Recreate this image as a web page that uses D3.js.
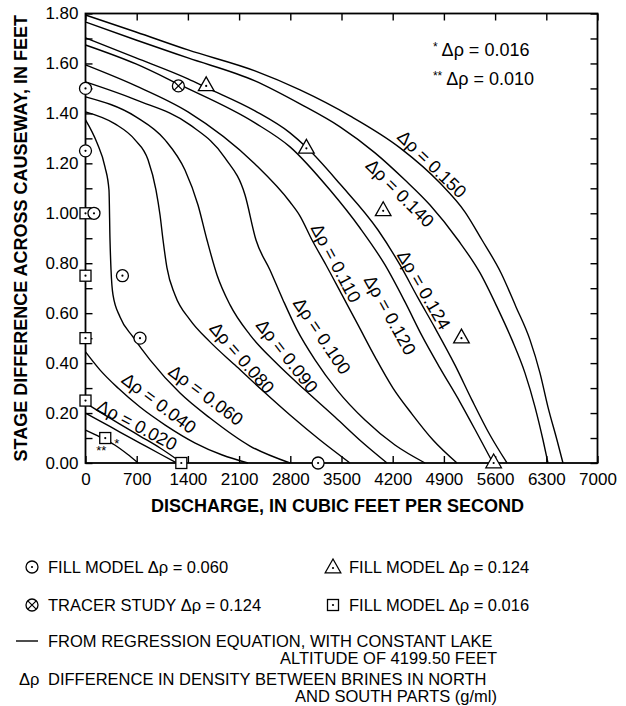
<!DOCTYPE html>
<html>
<head>
<meta charset="utf-8">
<script src="https://cdn.jsdelivr.net/npm/d3@7"></script>
<style>
  body { margin: 0; background: #fff; }
  svg { display: block; }
  text { font-family: "Liberation Sans", Arial, Helvetica, sans-serif; fill: #000; }
</style>
</head>
<body>
<svg id="chart" width="626" height="706"></svg>
<script>
// ---- Axis ticks ----
const xTickValues = [0, 700, 1400, 2100, 2800, 3500, 4200, 4900, 5600, 6300, 7000];
const yTickValues = [0, 0.1, 0.2, 0.3, 0.4, 0.5, 0.6, 0.7, 0.8, 0.9, 1.0, 1.1, 1.2, 1.3, 1.4, 1.5, 1.6, 1.7, 1.8];
const yTickLabels = ["0.00", "", "0.20", "", "0.40", "", "0.60", "", "0.80", "", "1.00", "", "1.20", "", "1.40", "", "1.60", "", "1.80"];

// ---- Regression curves: [discharge (ft3/s), stage difference (ft)] ----
const rho010 = [[0,0.132],[200,0.104],[400,0.072],[570,0.036],[720,0]];
const rho016 = [[0,0.200],[200,0.168],[470,0.124],[745,0.080],[1020,0.036],[1250,0]];
const rho020 = [[0,0.240],[200,0.204],[470,0.156],[745,0.108],[1020,0.060],[1320,0]];
const rho040 = [[0,0.445],[200,0.372],[445,0.300],[745,0.224],[1090,0.152],[1500,0.080],[1870,0.032],[2220,0]];
const rho060 = [[0,1.374],[157,1.282],[267,1.185],[321,1.093],[335,0.893],[349,0.773],[376,0.673],[472,0.585],[649,0.505],[882,0.413],[1292,0.280],[1702,0.180],[2249,0.068],[2796,0]];
const rho080 = [[0,1.406],[403,1.358],[677,1.294],[855,1.214],[964,1.093],[1019,0.993],[1060,0.893],[1114,0.781],[1224,0.673],[1429,0.573],[1702,0.485],[2044,0.392],[2413,0.292],[2796,0.192],[3206,0.092],[3616,0]];
const rho090 = [[0,1.466],[690,1.386],[1087,1.294],[1360,1.173],[1538,1.033],[1661,0.893],[1798,0.753],[1976,0.633],[2249,0.513],[2591,0.405],[3001,0.292],[3411,0.184],[3780,0.084],[4122,0]];
const rho100 = [[0,1.526],[690,1.454],[1429,1.354],[1907,1.222],[2181,1.073],[2331,0.893],[2522,0.773],[2700,0.653],[2892,0.533],[3138,0.413],[3439,0.292],[3821,0.172],[4231,0.072],[4642,0]];
const rho110 = [[0,1.594],[690,1.510],[1401,1.406],[2317,1.197],[2796,1.045],[2933,0.989],[3097,0.893],[3288,0.793],[3507,0.673],[3726,0.553],[3958,0.425],[4204,0.300],[4464,0.196],[4751,0.092],[5079,0]];
const rho120 = [[0,1.674],[690,1.598],[1265,1.518],[2317,1.362],[2796,1.266],[3343,1.093],[3753,0.941],[4095,0.793],[4368,0.645],[4601,0.509],[4847,0.380],[5120,0.244],[5366,0.112],[5571,0]];
const rho124 = [[0,1.702],[690,1.622],[1401,1.538],[1661,1.502],[2317,1.410],[2796,1.322],[3028,1.262],[3480,1.117],[3999,0.933],[4300,0.793],[4546,0.661],[4778,0.541],[5052,0.392],[5284,0.252],[5530,0.112],[5763,0]];
const rho140 = [[0,1.766],[690,1.694],[1401,1.622],[2317,1.530],[2933,1.438],[3480,1.346],[3958,1.242],[4368,1.133],[4710,1.033],[5093,0.893],[5394,0.761],[5626,0.625],[5831,0.493],[6009,0.360],[6146,0.224],[6255,0.092],[6323,0]];
const rho150 = [[0,1.794],[690,1.726],[1401,1.654],[2317,1.570],[2933,1.494],[3616,1.390],[4300,1.262],[4847,1.121],[5189,1.005],[5421,0.893],[5681,0.761],[5886,0.625],[6077,0.493],[6214,0.360],[6323,0.224],[6446,0.092],[6528,0]];

// ---- Observed points ----
const fillModel060 = [[0,1.50],[0,1.25],[116,1.00],[505,0.75],[745,0.50],[3180,0]];
const fillModel124 = [[1650,1.51],[3020,1.26],[4070,1.01],[5140,0.50],[5580,0]];
const fillModel016 = [[0,1.00],[0,0.75],[0,0.50],[0,0.25],[270,0.10],[1310,0]];
const tracer124 = [[1270,1.51]];

// ---- Curve labels: name, label anchor [discharge, stage], text angle ----
const curveNames  = ["0.010","0.016","0.020","0.040","0.060","0.080","0.090","0.100","0.110","0.120","0.124","0.140","0.150"];
const curveSeries = [rho010, rho016, rho020, rho040, rho060, rho080, rho090, rho100, rho110, rho120, rho124, rho140, rho150];
const labelNames   = ["0.020","0.040","0.060","0.080","0.090","0.100","0.110","0.120","0.124","0.140","0.150"];
const labelAnchors = [[704,0.152],[1005,0.240],[1647,0.272],[2140,0.421],[2755,0.429],[3233,0.509],[3425,0.801],[4163,0.593],[4628,0.693],[4300,1.081],[4737,1.197]];
const labelAngles  = [28, 37, 37, 49, 52, 56, 62, 61, 60, 45, 44];

const svg = d3.select("#chart");
const x = d3.scaleLinear().domain([0, 7000]).range([85.5, 597.5]);
const y = d3.scaleLinear().domain([0, 1.8]).range([463, 13.5]);

// ---- Axes (ticks point inward on all four sides) ----
const gBottom = svg.append("g").attr("transform", `translate(0,${y(0)})`)
  .call(d3.axisBottom(x).tickValues(xTickValues).tickSize(-7).tickPadding(10).tickFormat(d3.format("d")));
const gTop = svg.append("g").attr("transform", `translate(0,${y(1.8)})`)
  .call(d3.axisTop(x).tickValues(xTickValues).tickSize(-7).tickFormat(""));
const gLeft = svg.append("g").attr("transform", `translate(${x(0)},0)`)
  .call(d3.axisLeft(y).tickValues(yTickValues).tickSize(-7).tickPadding(7)
    .tickFormat((d, i) => yTickLabels[i]));
const gRight = svg.append("g").attr("transform", `translate(${x(7000)},0)`)
  .call(d3.axisRight(y).tickValues(yTickValues).tickSize(-7).tickFormat(""));

[gBottom, gTop, gLeft, gRight].forEach(g => {
  g.select(".domain").remove();
  g.selectAll(".tick line").attr("stroke", "#000").attr("stroke-width", 1.4);
  g.selectAll(".tick text").attr("font-size", 17).attr("fill", "#000")
    .style("font-family", '"Liberation Sans", Arial, sans-serif');
});

// Frame
svg.append("rect")
  .attr("x", x(0)).attr("y", y(1.8))
  .attr("width", x(7000) - x(0)).attr("height", y(0) - y(1.8))
  .attr("fill", "none").attr("stroke", "#000").attr("stroke-width", 1.8);

// Axis titles
svg.append("text")
  .attr("transform", `translate(21,${(y(0) + y(1.8)) / 2}) rotate(-90)`)
  .attr("text-anchor", "middle").attr("dy", "0.35em")
  .attr("font-size", 18).attr("font-weight", "bold")
  .text("STAGE DIFFERENCE ACROSS CAUSEWAY, IN FEET");
svg.append("text")
  .attr("x", (x(0) + x(7000)) / 2 - 4).attr("y", 512)
  .attr("text-anchor", "middle")
  .attr("font-size", 18).attr("font-weight", "bold")
  .text("DISCHARGE, IN CUBIC FEET PER SECOND");

// ---- Curves ----
const line = d3.line().x(d => x(d[0])).y(d => y(d[1])).curve(d3.curveMonotoneX);
svg.append("g").selectAll("path").data(curveSeries).join("path")
  .attr("d", line)
  .attr("fill", "none").attr("stroke", "#000").attr("stroke-width", 1.4)
  .attr("data-rho", (d, i) => curveNames[i]);

// Curve labels
svg.append("g").selectAll("text").data(labelNames).join("text")
  .attr("transform", (d, i) => `translate(${x(labelAnchors[i][0])},${y(labelAnchors[i][1])}) rotate(${labelAngles[i]})`)
  .attr("text-anchor", "middle").attr("dy", "0.35em")
  .attr("font-size", 18)
  .text(d => "\u0394\u03c1 = " + d);

// Notes for the two lowest curves
const notes = svg.append("g").attr("font-size", 18);
const n1 = notes.append("text").attr("x", x(4750)).attr("y", y(1.63));
n1.append("tspan").attr("font-size", 12).attr("dy", -5).text("*");
n1.append("tspan").attr("dy", 5).text(" \u0394\u03c1 = 0.016");
const n2 = notes.append("text").attr("x", x(4750)).attr("y", y(1.515));
n2.append("tspan").attr("font-size", 12).attr("dy", -5).text("**");
n2.append("tspan").attr("dy", 5).text(" \u0394\u03c1 = 0.010");
svg.append("text").attr("x", x(270) + 9).attr("y", y(0.10) + 10).attr("font-size", 13).text("*");
svg.append("text").attr("x", x(270) - 9).attr("y", y(0.10) + 17).attr("font-size", 13).text("**");

// ---- Marker shapes ----
function drawCircle(g) {
  g.append("circle").attr("r", 6).attr("fill", "#fff").attr("stroke", "#000").attr("stroke-width", 1.3);
  g.append("circle").attr("r", 1.1).attr("fill", "#000");
}
function drawTracer(g) {
  g.append("circle").attr("r", 6).attr("fill", "#fff").attr("stroke", "#000").attr("stroke-width", 1.3);
  g.append("path").attr("d", "M-4.2,-4.2L4.2,4.2M-4.2,4.2L4.2,-4.2").attr("stroke", "#000").attr("stroke-width", 1.2);
}
function drawTriangle(g) {
  g.append("path").attr("d", "M0,-9L7.8,4.8L-7.8,4.8Z").attr("fill", "#fff").attr("stroke", "#000").attr("stroke-width", 1.3);
  g.append("circle").attr("r", 1.1).attr("fill", "#000");
}
function drawSquare(g) {
  g.append("rect").attr("x", -5.5).attr("y", -5.5).attr("width", 11).attr("height", 11)
    .attr("fill", "#fff").attr("stroke", "#000").attr("stroke-width", 1.3);
  g.append("circle").attr("r", 1.1).attr("fill", "#000");
}

function plotPoints(data, shape) {
  svg.append("g").selectAll("g").data(data).join("g")
    .attr("transform", d => `translate(${x(d[0])},${y(d[1])})`)
    .each(function () { shape(d3.select(this)); });
}
plotPoints(fillModel016, drawSquare);
plotPoints(fillModel060, drawCircle);
plotPoints(fillModel124, drawTriangle);
plotPoints(tracer124, drawTracer);

// ---- Legend ----
const lg = svg.append("g").attr("font-size", 16.5);
const leg = (px, py, shape) => shape(lg.append("g").attr("transform", `translate(${px},${py})`));
leg(32, 567, drawCircle);
lg.append("text").attr("x", 48).attr("y", 573).text("FILL MODEL \u0394\u03c1 = 0.060");
leg(333, 568, drawTriangle);
lg.append("text").attr("x", 349).attr("y", 573).text("FILL MODEL \u0394\u03c1 = 0.124");
leg(32, 605, drawTracer);
lg.append("text").attr("x", 48).attr("y", 611).text("TRACER STUDY \u0394\u03c1 = 0.124");
leg(333, 605, drawSquare);
lg.append("text").attr("x", 349).attr("y", 611).text("FILL MODEL \u0394\u03c1 = 0.016");
lg.append("line").attr("x1", 16).attr("x2", 38).attr("y1", 641).attr("y2", 641)
  .attr("stroke", "#000").attr("stroke-width", 1.4);
lg.append("text").attr("x", 48).attr("y", 647).text("FROM REGRESSION EQUATION, WITH CONSTANT LAKE");
lg.append("text").attr("x", 497).attr("y", 664).attr("text-anchor", "end").text("ALTITUDE OF 4199.50 FEET");
lg.append("text").attr("x", 19).attr("y", 685).text("\u0394\u03c1");
lg.append("text").attr("x", 48).attr("y", 685).text("DIFFERENCE IN DENSITY BETWEEN BRINES IN NORTH");
lg.append("text").attr("x", 497).attr("y", 702).attr("text-anchor", "end").text("AND SOUTH PARTS (g/ml)");
</script>
</body>
</html>
